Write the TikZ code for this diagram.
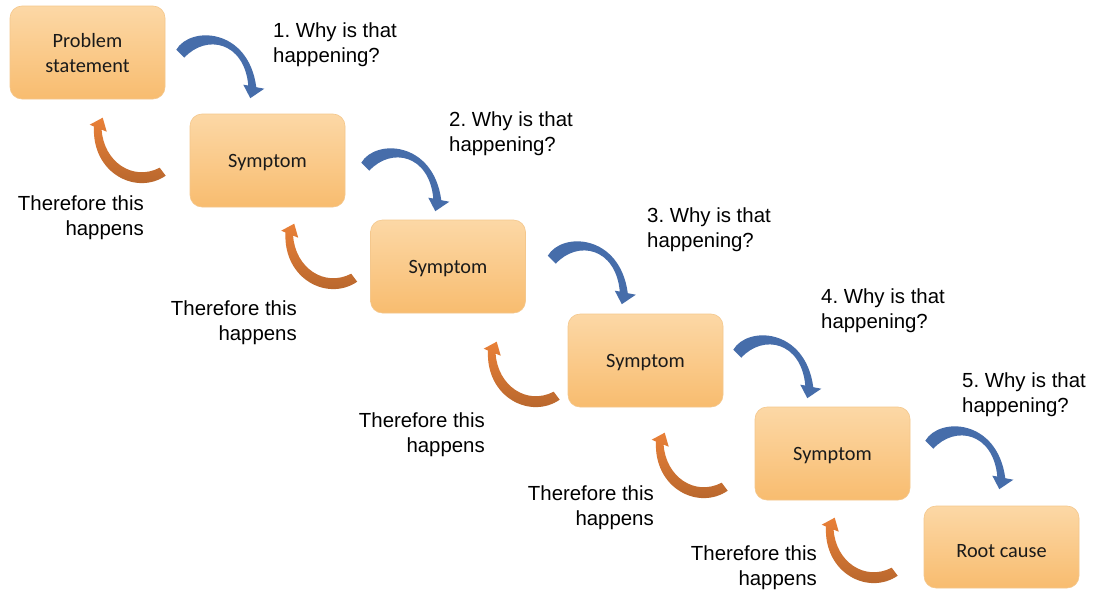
\documentclass[tikz,border=0pt]{standalone}
\usepackage{fontspec}
\setmainfont{Liberation Sans}
\newfontfamily\boxfont{Carlito}
\usetikzlibrary{calc}
\frenchspacing

\definecolor{boxtop}{HTML}{FCD8A6}
\definecolor{boxbot}{HTML}{F8BC6F}
\definecolor{boxedge}{HTML}{F4C78C}
\definecolor{boxtext}{HTML}{1A1A1A}
\definecolor{whyblue}{HTML}{466DAA}
\definecolor{thentop}{HTML}{E98038}
\definecolor{thenbot}{HTML}{B0632C}

\tikzset{
  stepbox/.style={rectangle, rounded corners=12pt, minimum width=155pt,
    minimum height=93pt, top color=boxtop, bottom color=boxbot,
    draw=boxedge, line width=0.6pt, inner sep=0pt, align=center,
    text depth=0pt, text=boxtext, font=\boxfont\fontsize{20.3}{25}\selectfont},
  whylabel/.style={inner sep=0pt, anchor=north west, align=left,
    font=\fontsize{20.4}{25}\selectfont},
  thenlabel/.style={inner sep=0pt, anchor=north east, align=right,
    font=\fontsize{20.4}{25}\selectfont},
  % curved blue block arrow, origin at the outer corner of its tail
  whyarrow/.pic={
    \fill[whyblue] (0,0) .. controls (14,-24) and (72,-22) .. (80,37.5)
      -- (88,39) -- (74,48.5) -- (67,35) -- (72,35.8)
      .. controls (68,-8) and (30,-16) .. (8,8) -- cycle;
  },
  % curved orange block arrow, origin at its tip
  thenarrow/.pic={
    \shade[top color=thentop, bottom color=thenbot]
      (63,58) .. controls (34,78) and (-11,56) .. (-8.75,8.75)
      -- (-13,7) -- (0,0) -- (4,14) -- (-1.1,11.9)
      .. controls (1,44) and (30,64) .. (57,50) -- cycle;
  }
}

\begin{document}
\begin{tikzpicture}[x=1pt, y=-1pt]
  \fill[white] (0,0) rectangle (1099,597);
  \useasboundingbox (0,0) rectangle (1099,597);

  % boxes of the chain
  \node[stepbox] (b0) at (87.5,52.5) {Problem\\statement};
  \node[stepbox] (b1) at (267.5,160.5) {Symptom};
  \node[stepbox] (b2) at (448,266.5) {Symptom};
  \node[stepbox] (b3) at (645.5,360.5) {Symptom};
  \node[stepbox] (b4) at (832.5,453.5) {Symptom};
  \node[stepbox, minimum height=82pt] (b5) at (1001.5,547) {\raisebox{-8pt}{Root cause}};

  % "why" arrows going down the chain
  \pic at ($(b0.north east)+(11,44)$) {whyarrow};
  \pic at ($(b1.north east)+(16,49)$) {whyarrow};
  \pic at ($(b2.north east)+(22,36)$) {whyarrow};
  \pic at ($(b3.north east)+(10,36)$) {whyarrow};
  \pic at ($(b4.north east)+(15,34)$) {whyarrow};

  % "therefore" arrows going back up
  \pic at ($(b1.north west)+(-87,4)$) {thenarrow};
  \pic at ($(b2.north west)+(-76,4)$) {thenarrow};
  \pic at ($(b3.north west)+(-71,28)$) {thenarrow};
  \pic at ($(b4.north west)+(-90,26)$) {thenarrow};
  \pic at ($(b5.north west)+(-89,12)$) {thenarrow};

  % questions
  \node[whylabel] (q1) at (273,23) {1. Why is that\\happening?};
  \node[whylabel] (q2) at (449,112) {2. Why is that\\happening?};
  \node[whylabel] (q3) at (647,208) {3. Why is that\\happening?};
  \node[whylabel] (q4) at (821,289) {4. Why is that\\happening?};
  \node[whylabel] (q5) at (962,373) {5. Why is that\\happening?};

  % consequences
  \node[thenlabel] (t1) at (144,196) {Therefore this\\happens};
  \node[thenlabel] (t2) at (297,301) {Therefore this\\happens};
  \node[thenlabel] (t3) at (485,413) {Therefore this\\happens};
  \node[thenlabel] (t4) at (654,486) {Therefore this\\happens};
  \node[thenlabel] (t5) at (817,546) {Therefore this\\happens};
\end{tikzpicture}
\end{document}
